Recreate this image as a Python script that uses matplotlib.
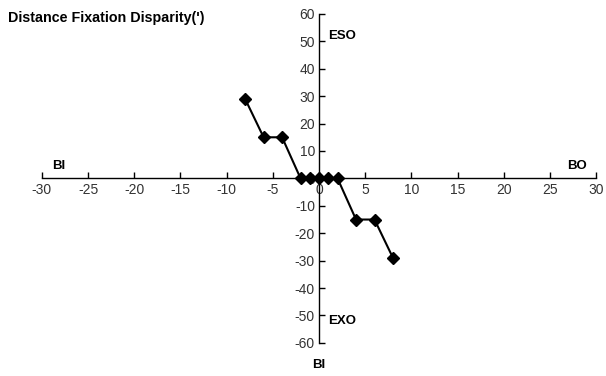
import matplotlib
matplotlib.use('Agg')
from matplotlib import pyplot as plt

# prism (x) vs fixation disparity (y)
prism = [-8, -6, -4, -2, -1, 0, 1, 2, 4, 6, 8]
disparity = [29, 15, 15, 0, 0, 0, 0, 0, -15, -15, -29]

x_ticks = list(range(-30, 31, 5))
y_ticks = list(range(-60, 61, 10))

plt.rcParams['font.family'] = ['Liberation Sans', 'DejaVu Sans']
plt.rcParams['axes.unicode_minus'] = False

fig = plt.figure(figsize=(6.06, 3.76), dpi=100)
ax = fig.add_axes([0.069, 0.088, 0.915, 0.875])

ax.plot(prism, disparity, color='black', lw=1.5, marker='D', markersize=6,
        markerfacecolor='black', markeredgecolor='black', clip_on=False, zorder=3)

ax.set_xlim(-30, 30)
ax.set_ylim(-60, 60)
ax.set_xticks(x_ticks)
ax.set_yticks(y_ticks)

# axes cross at the origin
ax.spines['left'].set_position('zero')
ax.spines['bottom'].set_position('zero')
ax.spines['right'].set_color('none')
ax.spines['top'].set_color('none')
for s in ('left', 'bottom'):
    ax.spines[s].set_linewidth(1.0)

ax.tick_params(axis='x', direction='in', length=4, width=1, labelsize=10,
               colors='black', labelcolor='#333333', pad=3)
ax.tick_params(axis='y', direction='in', length=4, width=1, labelsize=10,
               colors='black', labelcolor='#333333', pad=3)

bold = dict(fontsize=9.5, fontweight='bold', color='black')
fig.text(0.013, 0.953, "Distance Fixation Disparity(')", va='center', ha='left',
         fontsize=10.3, fontweight='bold', color='black')
ax.text(1.0, 52, 'ESO', va='center', ha='left', **bold)
ax.text(1.0, -52, 'EXO', va='center', ha='left', **bold)
ax.text(-28.9, 4.5, 'BI', va='center', ha='left', **bold)
ax.text(29.0, 4.5, 'BO', va='center', ha='right', **bold)
fig.text(0.526, 0.028, 'BI', va='center', ha='center', **bold)

fig.savefig('out.png', dpi=100)
